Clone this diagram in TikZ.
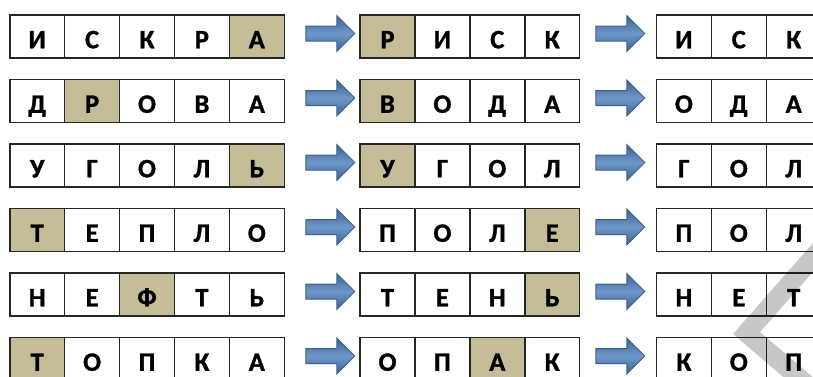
\documentclass[tikz,border=0pt]{standalone}
\usepackage{fontspec}
\setmainfont{Carlito}[BoldFeatures={FakeBold=1.2}]
\usetikzlibrary{shapes.arrows}
\definecolor{tanc}{HTML}{C4BD97}
\definecolor{arrfill}{HTML}{4A7DBA}
\definecolor{arrline}{HTML}{3B6290}
\newcommand\wordgroup[5]{%
  \foreach \L [count=\i] in {#5} {%
    \ifnum\i=#4\relax
      \node[cell,hl] (#1-\i) at ({#2+(\i-1)*54.9},#3) {\L};
    \else
      \node[cell] (#1-\i) at ({#2+(\i-1)*54.9},#3) {\L};
    \fi
  }}
\begin{document}
\begin{tikzpicture}[x=1pt,y=-1pt,
  cell/.style={draw=black!85, line width=1.5pt, fill=white, anchor=north west,
    minimum width=54.9pt, minimum height=43pt, inner sep=0pt,
    text height=24pt, text depth=0pt,
    font=\bfseries\fontsize{26.5}{26.5}\selectfont},
  hl/.style={fill=tanc},
  barrow/.style={single arrow, draw=arrline, line width=1pt,
    top color=arrline, bottom color=arrline, middle color=arrfill!80!white,
    minimum height=49pt, minimum width=35pt, inner xsep=0pt, inner ysep=7pt,
    single arrow head extend=10.5pt, single arrow tip angle=90, anchor=center}]
\useasboundingbox (0,0) rectangle (813,376);
\clip (0,0) rectangle (813,376);
\fill[white] (0,0) rectangle (813,376);
% row 1
\wordgroup{a1}{9}{14}{5}{И,С,К,Р,А}
\wordgroup{a2}{359.3}{14}{1}{Р,И,С,К}
\wordgroup{a3}{655.7}{14}{0}{И,С,К}
% row 2
\wordgroup{b1}{9}{78.5}{2}{Д,Р,О,В,А}
\wordgroup{b2}{359.3}{78.5}{1}{В,О,Д,А}
\wordgroup{b3}{655.7}{78.5}{0}{О,Д,А}
% row 3
\wordgroup{c1}{9}{143}{5}{У,Г,О,Л,Ь}
\wordgroup{c2}{359.3}{143}{1}{У,Г,О,Л}
\wordgroup{c3}{655.7}{143}{0}{Г,О,Л}
% row 4
\wordgroup{d1}{9}{207.5}{1}{Т,Е,П,Л,О}
\wordgroup{d2}{359.3}{207.5}{4}{П,О,Л,Е}
\wordgroup{d3}{655.7}{207.5}{0}{П,О,Л}
% row 5
\wordgroup{e1}{9}{272}{3}{Н,Е,Ф,Т,Ь}
\wordgroup{e2}{359.3}{272}{4}{Т,Е,Н,Ь}
\wordgroup{e3}{655.7}{272}{0}{Н,Е,Т}
% row 6
\wordgroup{f1}{9}{336.5}{1}{Т,О,П,К,А}
\wordgroup{f2}{359.3}{336.5}{3}{О,П,А,К}
\wordgroup{f3}{655.7}{336.5}{0}{К,О,П}
% arrows
\foreach \r/\y in {a/33.5,b/98,c/162.5,d/227,e/291.5,f/356} {
  \node[barrow] (\r-arr1) at (326.5,\y) {};
  \node[barrow] (\r-arr2) at (616.5,\y) {};
}
% watermark
\draw[black, opacity=0.22, line width=19pt, line join=miter]
  (845.5,220.5) -- (746.5,333) -- (822.5,398);
\end{tikzpicture}
\end{document}
